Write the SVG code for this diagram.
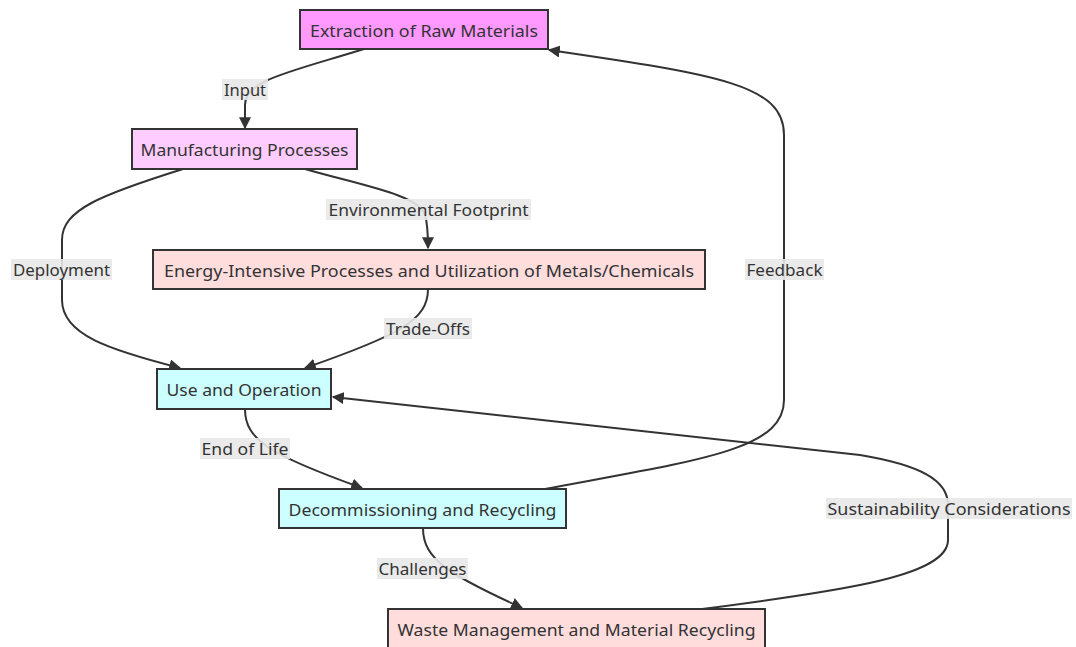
<svg xmlns="http://www.w3.org/2000/svg" width="1076" height="647" viewBox="0 0 1076 647">
<style>
.node rect{stroke:#333;stroke-width:2}
.node text,.lbl text{font-family:"Noto Sans","Liberation Sans",sans-serif;font-size:17px;fill:#333;text-anchor:middle;dominant-baseline:central}
.lbl rect{fill:#e8e8e8;opacity:0.9}
.edge{fill:none;stroke:#333;stroke-width:2;marker-end:url(#arr)}
</style>
<defs>
<marker id="arr" viewBox="0 0 10 10" refX="9" refY="5" markerWidth="12" markerHeight="12" markerUnits="userSpaceOnUse" orient="auto">
<path d="M0,0 L10,5 L0,10 z" fill="#333"/>
</marker>
</defs>
<rect width="1076" height="647" fill="#fff"/>
<g id="connectors">
<path class="edge" d="M364,49 C290,72 245,80 245,105 L245,128"/>
<path class="edge" d="M305,169 C360,185 420,195 425,215 C428,225 428,235 428,248"/>
<path class="edge" d="M183,169 C100,195 62,210 62,240 L62,300 C62,335 110,350 180,368"/>
<path class="edge" d="M428,289 C428,320 400,335 305,368"/>
<path class="edge" d="M245,409 C245,440 270,455 362,488"/>
<path class="edge" d="M545,489 C700,460 784,450 784,400 L784,135 C784,85 720,75 549,50"/>
<path class="edge" d="M423,528 C423,560 450,575 522,608"/>
<path class="edge" d="M702,609 C850,590 948,575 948,540 L948,505 C948,480 920,465 860,455 L333,397"/>
</g>
<g id="edge-labels">
<g class="lbl"><rect x="222" y="79" width="46" height="21"/><text x="245" y="89.5" textLength="42" lengthAdjust="spacingAndGlyphs">Input</text></g>
<g class="lbl"><rect x="326" y="199" width="205" height="21"/><text x="428.5" y="209.5" textLength="200" lengthAdjust="spacingAndGlyphs">Environmental Footprint</text></g>
<g class="lbl"><rect x="11" y="259" width="101" height="21"/><text x="61.5" y="269.5" textLength="97" lengthAdjust="spacingAndGlyphs">Deployment</text></g>
<g class="lbl"><rect x="384" y="318" width="88" height="21"/><text x="428" y="328.5" textLength="84" lengthAdjust="spacingAndGlyphs">Trade-Offs</text></g>
<g class="lbl"><rect x="745" y="259" width="79" height="21"/><text x="784.5" y="269.5" textLength="76" lengthAdjust="spacingAndGlyphs">Feedback</text></g>
<g class="lbl"><rect x="200" y="438" width="90" height="21"/><text x="245" y="448.5" textLength="87" lengthAdjust="spacingAndGlyphs">End of Life</text></g>
<g class="lbl"><rect x="826" y="498" width="246" height="21"/><text x="949" y="508.5" textLength="243" lengthAdjust="spacingAndGlyphs">Sustainability Considerations</text></g>
<g class="lbl"><rect x="377" y="558" width="91" height="21"/><text x="422.5" y="568.5" textLength="88" lengthAdjust="spacingAndGlyphs">Challenges</text></g>
</g>
<g id="extraction" class="node"><rect x="300" y="10" width="248" height="39" fill="#f9f"/><text x="424" y="30" textLength="228" lengthAdjust="spacingAndGlyphs">Extraction of Raw Materials</text></g>
<g id="manufacturing" class="node"><rect x="132" y="129" width="225" height="40" fill="#fcf"/><text x="244.5" y="149" textLength="208" lengthAdjust="spacingAndGlyphs">Manufacturing Processes</text></g>
<g id="energy" class="node"><rect x="153" y="250" width="552" height="39" fill="#fdd"/><text x="429" y="270" textLength="530" lengthAdjust="spacingAndGlyphs">Energy-Intensive Processes and Utilization of Metals/Chemicals</text></g>
<g id="use" class="node"><rect x="157" y="369" width="174" height="40" fill="#cff"/><text x="244" y="389" textLength="155" lengthAdjust="spacingAndGlyphs">Use and Operation</text></g>
<g id="decommissioning" class="node"><rect x="279" y="489" width="287" height="39" fill="#cff"/><text x="422.5" y="509" textLength="268" lengthAdjust="spacingAndGlyphs">Decommissioning and Recycling</text></g>
<g id="waste" class="node"><rect x="388" y="609" width="377" height="40" fill="#fdd"/><text x="576.5" y="629" textLength="358" lengthAdjust="spacingAndGlyphs">Waste Management and Material Recycling</text></g>
</svg>
